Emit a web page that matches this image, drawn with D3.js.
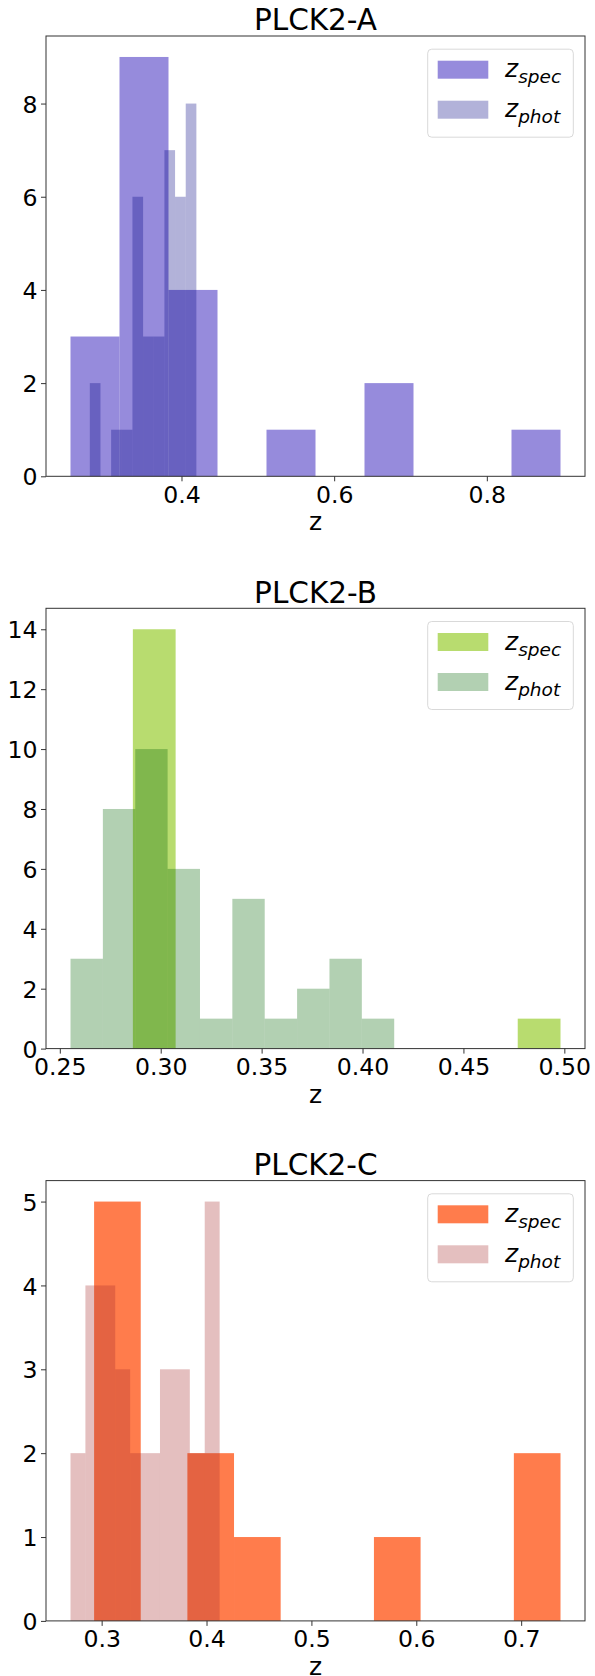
<!DOCTYPE html>
<html>
<head>
<meta charset="utf-8">
<script src="https://cdn.jsdelivr.net/npm/d3@7"></script>
<style>
  html, body { margin: 0; padding: 0; background: #fff; }
  svg { display: block; }
  text { font-family: "DejaVu Sans", sans-serif; fill: #000; }
</style>
</head>
<body>
<svg id="chart" width="595" height="1676"></svg>
<script>
// ---------------- data ----------------
const panelTitles = ["PLCK2-A", "PLCK2-B", "PLCK2-C"];

// histogram ranges [min, max] (10 equal bins each) and counts
const aSpecRange = [0.2546, 0.8965];
const aSpecCounts = [3, 9, 4, 0, 1, 0, 2, 0, 0, 1];
const aPhotRange = [0.2799, 0.4195];
const aPhotCounts = [2, 0, 1, 1, 6, 3, 3, 7, 6, 8];

const bSpecRange = [0.2862, 0.4981];
const bSpecCounts = [14, 0, 0, 0, 0, 0, 0, 0, 0, 1];
const bPhotRange = [0.2553, 0.4157];
const bPhotCounts = [3, 8, 10, 6, 1, 5, 1, 2, 3, 1];

const cSpecRange = [0.2928, 0.7375];
const cSpecCounts = [5, 0, 2, 1, 0, 0, 1, 0, 0, 2];
const cPhotRange = [0.2703, 0.4125];
const cPhotCounts = [2, 4, 4, 3, 2, 2, 3, 3, 2, 5];

const aXTicks = [0.4, 0.6, 0.8];
const bXTicks = [0.25, 0.30, 0.35, 0.40, 0.45, 0.50];
const cXTicks = [0.3, 0.4, 0.5, 0.6, 0.7];
const aYTicks = [0, 2, 4, 6, 8];
const bYTicks = [0, 2, 4, 6, 8, 10, 12, 14];
const cYTicks = [0, 1, 2, 3, 4, 5];

const specColors = ["#6A5ACD", "#9ACD32", "#FF4500"];
const photColors = ["#000080", "#006400", "#A52A2A"];
const legendLabels = ["spec", "phot"];

// ---------------- layout ----------------
const axLeft = 46, axRight = 585, axH = 440.3;
const axTops = [36, 608.3, 1180.6];
const xFormats = [d3.format(".1f"), d3.format(".2f"), d3.format(".1f")];

const panels = [
  {spec: [aSpecRange, aSpecCounts], phot: [aPhotRange, aPhotCounts], xt: aXTicks, yt: aYTicks},
  {spec: [bSpecRange, bSpecCounts], phot: [bPhotRange, bPhotCounts], xt: bXTicks, yt: bYTicks},
  {spec: [cSpecRange, cSpecCounts], phot: [cPhotRange, cPhotCounts], xt: cXTicks, yt: cYTicks}
];

const svg = d3.select("#chart");
const tickFont = 23.6, titleFont = 29.5, labelFont = 25, legFont = 25;

function bins(range, counts) {
  const n = counts.length, w = (range[1] - range[0]) / n;
  return counts.map((c, i) => ({x0: range[0] + i * w, x1: range[0] + (i + 1) * w, c}));
}

panels.forEach((p, k) => {
  const top = axTops[k], bottom = top + axH;
  const lo = Math.min(p.spec[0][0], p.phot[0][0]);
  const hi = Math.max(p.spec[0][1], p.phot[0][1]);
  const pad = (hi - lo) * 0.05;
  const x = d3.scaleLinear().domain([lo - pad, hi + pad]).range([axLeft, axRight]);
  const ymax = d3.max([...p.spec[1], ...p.phot[1]]) * 1.05;
  const y = d3.scaleLinear().domain([0, ymax]).range([bottom, top]);

  const g = svg.append("g");

  // bars: spec then phot
  [[p.spec, specColors[k], 0.7], [p.phot, photColors[k], 0.3]].forEach(([s, col, a]) => {
    g.append("g").selectAll("rect")
      .data(bins(s[0], s[1]).filter(d => d.c > 0))
      .join("rect")
      .attr("x", d => x(d.x0))
      .attr("width", d => x(d.x1) - x(d.x0))
      .attr("y", d => y(d.c))
      .attr("height", d => y(0) - y(d.c))
      .attr("fill", col)
      .attr("fill-opacity", a);
  });

  // spines
  g.append("rect")
    .attr("x", axLeft).attr("y", top)
    .attr("width", axRight - axLeft).attr("height", axH)
    .attr("fill", "none").attr("stroke", "#333").attr("stroke-width", 1);

  // x axis
  const xa = d3.axisBottom(x).tickValues(p.xt).tickFormat(xFormats[k]).tickSize(5).tickPadding(4);
  const xg = g.append("g").attr("transform", `translate(0,${bottom})`).call(xa);
  xg.select(".domain").remove();
  xg.selectAll(".tick line").attr("stroke", "#333");
  xg.selectAll(".tick text")
    .attr("font-size", tickFont)
    .attr("font-family", "DejaVu Sans")
    .attr("fill", "#000")
    .attr("dy", null)
    .attr("y", 26.5);

  // y axis
  const ya = d3.axisLeft(y).tickValues(p.yt).tickFormat(d3.format("d")).tickSize(5).tickPadding(4);
  const yg = g.append("g").attr("transform", `translate(${axLeft},0)`).call(ya);
  yg.select(".domain").remove();
  yg.selectAll(".tick line").attr("stroke", "#333");
  yg.selectAll(".tick text")
    .attr("font-size", tickFont)
    .attr("font-family", "DejaVu Sans")
    .attr("fill", "#000")
    .attr("dy", null)
    .attr("y", 8.6)
    .attr("x", -8.5);

  // title
  g.append("text")
    .attr("x", (axLeft + axRight) / 2).attr("y", top - 5.7)
    .attr("text-anchor", "middle")
    .attr("font-size", titleFont)
    .text(panelTitles[k]);

  // x label
  g.append("text")
    .attr("x", (axLeft + axRight) / 2).attr("y", bottom + 54)
    .attr("text-anchor", "middle")
    .attr("font-size", labelFont)
    .text("z");

  // legend
  const lg = g.append("g");
  lg.append("rect")
    .attr("x", 427.7).attr("y", top + 13.2)
    .attr("width", 145.6).attr("height", 88)
    .attr("rx", 4).attr("ry", 4)
    .attr("fill", "#fff").attr("fill-opacity", 0.8)
    .attr("stroke", "#d9d9d9").attr("stroke-width", 1);
  const legCols = [[specColors[k], 0.7], [photColors[k], 0.3]];
  legendLabels.forEach((lab, i) => {
    const py = top + 24.7 + i * 40;
    lg.append("rect")
      .attr("x", 437.7).attr("y", py)
      .attr("width", 50.6).attr("height", 18)
      .attr("fill", legCols[i][0]).attr("fill-opacity", legCols[i][1]);
    const t = lg.append("text")
      .attr("x", 505).attr("y", py + 16.5)
      .attr("font-size", legFont)
      .attr("font-style", "italic");
    t.append("tspan").text("z");
    t.append("tspan").attr("font-size", 18.5).attr("dy", 6).text(lab);
  });
});
</script>
</body>
</html>
